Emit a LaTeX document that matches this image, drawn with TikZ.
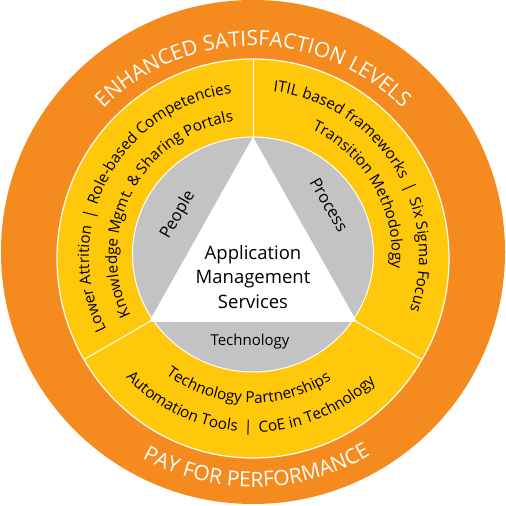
\documentclass[tikz,border=0pt]{standalone}
\usepackage{fontspec}
\setmainfont{Open Sans}
\usetikzlibrary{decorations.text}
\definecolor{orng}{HTML}{F58A1F}
\definecolor{ylw}{HTML}{FFC80A}
\definecolor{gry}{HTML}{C3C3C3}
\tikzset{
  arctext/.style n args={3}{decorate, decoration={text along path, text format delimiters={<}{>}, text align=center, text color=#3, text={<\fontsize{#2}{#2}\selectfont>#1}}},
  divider/.style={draw=white, line width=1pt},
  lbl/.style={font=\fontsize{16.5}{19}\selectfont, inner sep=0pt}
}
\begin{document}
\begin{tikzpicture}[x=1pt,y=1pt]
\useasboundingbox (0,0) rectangle (506,506);
\coordinate (c) at (253,250);
\coordinate (apex) at (253,369);
\coordinate (bl) at (149,184);
\coordinate (br) at (357,184);
% rings
\fill[orng] (253,254) circle (252);
\fill[ylw, draw=white, line width=1.2pt] (253,247.5) ellipse [x radius=196, y radius=199.5];
\begin{scope}
  \clip (253,247.5) ellipse [x radius=196, y radius=199.5];
  \draw[divider] (apex) -- ++(90:200);
  \draw[divider] (bl) -- ++(210:200);
  \draw[divider] (br) -- ++(-30:200);
\end{scope}
\fill[gry, draw=white, line width=1pt] (253,251.5) ellipse [x radius=120.5, y radius=117.5];
\fill[white] (apex) -- (bl) -- (br) -- cycle;
% outer texts
\path[arctext={ENHANCED SATISFACTION LEVELS}{21}{white}] ([shift={(c)}]170:210) arc[start angle=170, end angle=10, radius=210];
\path[arctext={PAY FOR PERFORMANCE}{21}{white}] ([shift={(c)}]-159:231) arc[start angle=-159, end angle=-19, radius=231];
% yellow sector texts
\path[arctext={Lower Attrition {\,}|{\,} Role-based Competencies}{15.3}{black}] ([shift={(c)}]216:164) arc[start angle=216, end angle=88, radius=164];
\path[arctext={Knowledge Mgmt. {\&} Sharing Portals}{15.3}{black}] ([shift={(c)}]216:136) arc[start angle=216, end angle=88, radius=136];
\path[arctext={ITIL based frameworks {\,}|{\,} Six Sigma Focus}{15.3}{black}] ([shift={(c)}]96:166) arc[start angle=96, end angle=-32, radius=166];
\path[arctext={Transition Methodology}{15.3}{black}] ([shift={(c)}]94:139) arc[start angle=94, end angle=-34, radius=139];
\path[arctext={Technology Partnerships}{15.3}{black}] ([shift={(c)}]-152:147) arc[start angle=-152, end angle=-32, radius=147];
\path[arctext={Automation Tools {\,}|{\,} CoE in Technology}{15.3}{black}] ([shift={(c)}]-152:176) arc[start angle=-152, end angle=-30, radius=176];
% triangle labels
\node[lbl, rotate=60] (people) at (178,291) {People};
\node[lbl, rotate=-60] (process) at (329,301) {Process};
\node[font=\fontsize{15}{18}\selectfont, inner sep=0pt] (tech) at (250,164) {Technology};
\node[align=center, font=\fontsize{18.5}{24.5}\selectfont, inner sep=0pt] (ams) at (253,229) {Application\\Management\\Services};
\end{tikzpicture}
\end{document}
